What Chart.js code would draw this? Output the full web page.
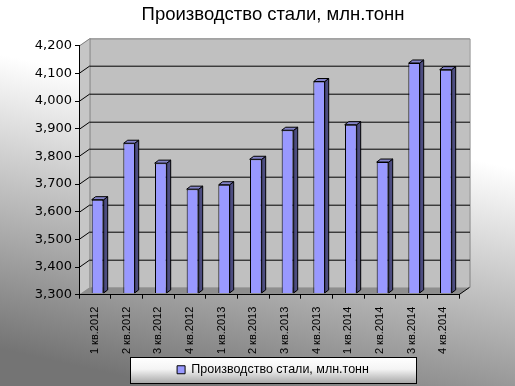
<!DOCTYPE html>
<html><head><meta charset="utf-8">
<script src="https://cdn.jsdelivr.net/npm/chart.js@4/dist/chart.umd.min.js"></script>
<style>html,body{margin:0;padding:0;background:#fff}canvas{display:block}</style>
</head><body>
<canvas id="c" width="515" height="386"></canvas>
<script>
const categories = ['1 кв.2012','2 кв.2012','3 кв.2012','4 кв.2012','1 кв.2013','2 кв.2013','3 кв.2013','4 кв.2013','1 кв.2014','2 кв.2014','3 кв.2014','4 кв.2014'];
const steelOutput = [3637, 3841, 3769, 3675, 3691, 3783, 3888, 4064, 3908, 3773, 4131, 4107];
const yTicks = [3300, 3400, 3500, 3600, 3700, 3800, 3900, 4000, 4100, 4200];
const seriesName = 'Производство стали, млн.тонн';
const chartTitle = 'Производство стали, млн.тонн';

const WALL_DX = 10.5, WALL_DY = 7.3;
const BAR_DX = 4, BAR_DY = 3;
const BAR_SHIFT_X = 2.7, BAR_SHIFT_Y = -1.8;

const scenePlugin = {
  id: 'scene',
  beforeDraw(chart) {
    const ctx = chart.ctx, W = chart.width, H = chart.height;
    ctx.save();
    const g = ctx.createLinearGradient(310, 40, 230, 400);
    g.addColorStop(0, '#ffffff');
    g.addColorStop(0.22, '#ffffff');
    g.addColorStop(1, '#747474');
    ctx.fillStyle = g;
    ctx.fillRect(0, 0, W, H);

    const a = chart.chartArea, L = a.left, R = a.right, T = a.top, B = a.bottom;
    const ys = chart.scales.y;
    // back wall
    ctx.fillStyle = '#c0c0c0';
    ctx.fillRect(L + WALL_DX, T - WALL_DY, R - L, B - T);
    // side wall
    ctx.fillStyle = '#c6c6c6';
    ctx.beginPath();
    ctx.moveTo(L, T); ctx.lineTo(L + WALL_DX, T - WALL_DY);
    ctx.lineTo(L + WALL_DX, B - WALL_DY); ctx.lineTo(L, B); ctx.closePath();
    ctx.fill();
    // floor
    ctx.fillStyle = '#8e8e8e';
    ctx.beginPath();
    ctx.moveTo(L, B); ctx.lineTo(R, B); ctx.lineTo(R + WALL_DX, B - WALL_DY);
    ctx.lineTo(L + WALL_DX, B - WALL_DY); ctx.closePath();
    ctx.fill();
    // wall borders
    ctx.strokeStyle = '#808080';
    ctx.lineWidth = 1;
    ctx.beginPath();
    ctx.moveTo(L, T + 0.5); ctx.lineTo(L + WALL_DX, T - WALL_DY + 0.5);
    ctx.lineTo(R + WALL_DX + 0.5, T - WALL_DY + 0.5);
    ctx.lineTo(R + WALL_DX + 0.5, B - WALL_DY);
    ctx.moveTo(L + WALL_DX + 0.5, T - WALL_DY); ctx.lineTo(L + WALL_DX + 0.5, B - WALL_DY);
    ctx.stroke();
    // gridlines on walls
    ctx.strokeStyle = '#000000';
    ctx.beginPath();
    yTicks.forEach(v => {
      if (v <= ys.min || v >= ys.max) return;
      const y = Math.round(ys.getPixelForValue(v)) + 0.5;
      ctx.moveTo(L, y);
      ctx.lineTo(L + WALL_DX, y - WALL_DY);
      ctx.lineTo(R + WALL_DX + 0.5, y - WALL_DY);
    });
    // floor right edge
    ctx.moveTo(R, B); ctx.lineTo(R + WALL_DX, B - WALL_DY);
    ctx.stroke();

    // legend frame
    const lg = chart.legend;
    if (lg && lg.legendHitBoxes && lg.legendHitBoxes.length) {
      const hb = lg.legendHitBoxes[0];
      const cx = hb.left + hb.width / 2;
      const x0 = Math.round(cx - 143) + 0.5, x1 = Math.round(cx + 143) + 0.5;
      const y0 = Math.round(hb.top - 7) + 0.5, y1 = Math.round(hb.top + 19) + 0.5;
      const lgg = ctx.createLinearGradient(0, y0, 0, y1);
      lgg.addColorStop(0, '#ffffff');
      lgg.addColorStop(0.45, '#f4f4f4');
      lgg.addColorStop(1, '#a6a6a6');
      ctx.fillStyle = lgg;
      ctx.fillRect(x0, y0, x1 - x0, y1 - y0);
      ctx.strokeStyle = '#000000';
      ctx.strokeRect(x0, y0, x1 - x0, y1 - y0);
    }
    ctx.restore();
  },
  beforeDatasetsDraw(chart) {
    chart.ctx.save();
    chart.ctx.translate(BAR_SHIFT_X, BAR_SHIFT_Y);
  },
  afterDatasetsDraw(chart) {
    const ctx = chart.ctx;
    const meta = chart.getDatasetMeta(0);
    const bottom = chart.chartArea.bottom;
    ctx.lineWidth = 1;
    ctx.strokeStyle = '#000000';
    ctx.lineJoin = 'miter';
    meta.data.forEach(el => {
      const p = el.getProps(['x', 'y', 'base', 'width'], true);
      const l = Math.round(p.x - p.width / 2), r = Math.round(p.x + p.width / 2);
      const t = p.y, b = Math.min(p.base, bottom);
      // side face
      ctx.fillStyle = '#4d4d80';
      ctx.beginPath();
      ctx.moveTo(r, t); ctx.lineTo(r + BAR_DX, t - BAR_DY);
      ctx.lineTo(r + BAR_DX, b - BAR_DY); ctx.lineTo(r, b); ctx.closePath();
      ctx.fill(); ctx.stroke();
      // top face
      ctx.fillStyle = '#8383c8';
      ctx.beginPath();
      ctx.moveTo(l, t); ctx.lineTo(l + BAR_DX, t - BAR_DY);
      ctx.lineTo(r + BAR_DX, t - BAR_DY); ctx.lineTo(r, t); ctx.closePath();
      ctx.fill(); ctx.stroke();
    });
    ctx.restore();
  }
};

new Chart(document.getElementById('c'), {
  type: 'bar',
  data: {
    labels: categories,
    datasets: [{
      label: seriesName,
      data: steelOutput,
      backgroundColor: '#9999ff',
      borderColor: '#000000',
      borderWidth: 1,
      categoryPercentage: 1,
      barPercentage: 0.37
    }]
  },
  options: {
    responsive: false,
    devicePixelRatio: 1,
    animation: false,
    events: [],
    layout: { padding: { left: 31, right: 0, top: 0, bottom: 0 } },
    plugins: {
      title: {
        display: true,
        text: chartTitle,
        color: '#000000',
        font: { family: "'Liberation Sans', Arial, sans-serif", size: 18.5, weight: 'normal' },
        padding: { top: 4, bottom: 19.5 }
      },
      legend: {
        display: true,
        position: 'bottom',
        labels: {
          color: '#000000',
          boxWidth: 8,
          boxHeight: 8,
          padding: 8,
          font: { family: "'Liberation Sans', Arial, sans-serif", size: 12.5 }
        }
      },
      tooltip: { enabled: false }
    },
    scales: {
      x: {
        offset: true,
        grid: { display: true, drawOnChartArea: false, drawTicks: true, tickLength: 4, color: '#000000', offset: true },
        border: { display: true, color: '#000000' },
        ticks: {
          color: '#000000',
          minRotation: 90, maxRotation: 90,
          autoSkip: false,
          padding: 8,
          font: { family: "'Liberation Sans', Arial, sans-serif", size: 11 }
        },
        afterFit(s) { s.height = 60.8; }
      },
      y: {
        min: 3300, max: 4200,
        grid: { display: true, drawOnChartArea: false, drawTicks: true, tickLength: 4, color: '#000000' },
        border: { display: true, color: '#000000' },
        ticks: {
          color: '#000000',
          padding: 3,
          font: { family: "'DejaVu Sans', sans-serif", size: 13 },
          callback: v => Number(v).toLocaleString('en-US')
        },
        afterBuildTicks(s) { s.ticks = yTicks.map(v => ({ value: v })); },
        afterFit(s) { s.width = 48; }
      },
      yRight: {
        position: 'right',
        display: true,
        grid: { display: false },
        border: { display: false },
        ticks: { display: false },
        afterFit(s) { s.width = 56; }
      }
    }
  },
  plugins: [scenePlugin]
});
</script>
</body></html>
